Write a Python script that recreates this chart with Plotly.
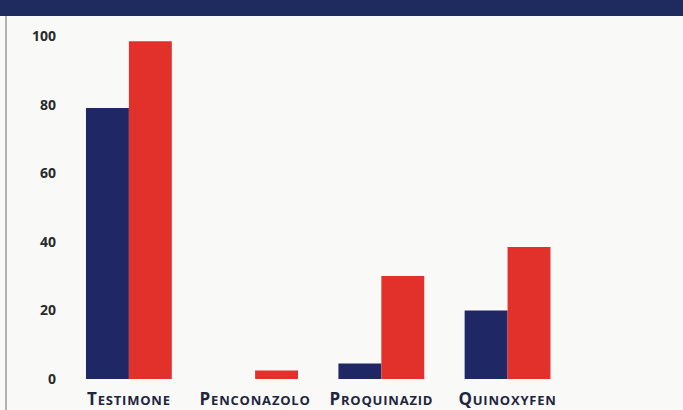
import plotly.graph_objects as go

# Categorie (tesi) e valori delle due serie
categorie = ["Testimone", "Penconazolo", "Proquinazid", "Quinoxyfen"]
serie_blu = [79, 0, 4.5, 20]
serie_rossa = [98.5, 2.5, 30, 38.5]
tick_y = [0, 20, 40, 60, 80, 100]

BLU = "#1f2865"
ROSSO = "#e2312b"
TESTO = "#1e2540"
SFONDO = "#f9f9f8"


def maiuscoletto(parola):
    # prima lettera grande, resto in maiuscoletto spaziato
    return (f"<span style='font-size:17px;letter-spacing:0.8px'>{parola[0].upper()}</span>"
            f"<span style='font-size:13px;letter-spacing:0.8px'>{parola[1:].upper()}</span>")


fig = go.Figure()
fig.add_trace(go.Bar(x=categorie, y=serie_blu, name="Serie 1",
                     marker=dict(color=BLU, line=dict(width=0))))
fig.add_trace(go.Bar(x=categorie, y=serie_rossa, name="Serie 2",
                     marker=dict(color=ROSSO, line=dict(width=0))))

fig.update_layout(
    width=683, height=410,
    barmode="group", bargap=0.32, bargroupgap=0,
    showlegend=False,
    paper_bgcolor=SFONDO, plot_bgcolor=SFONDO,
    margin=dict(l=62, r=0, t=36, b=31),
    font=dict(family="Open Sans", color=TESTO),
    xaxis=dict(
        type="category",
        range=[-0.53, 4.39],
        tickvals=categorie,
        ticktext=[maiuscoletto(c) for c in categorie],
        tickfont=dict(family="Open Sans", size=13, color=TESTO, weight="bold"),
        ticks="", showgrid=False, zeroline=False, showline=False,
        ticklabelstandoff=12, automargin=False,
    ),
    yaxis=dict(
        range=[0, 100],
        tickvals=tick_y,
        ticktext=[str(v) for v in tick_y],
        tickfont=dict(family="Open Sans", size=14, color="#2a2a2a", weight="bold"),
        ticks="", showgrid=False, zeroline=False, showline=False,
        ticklabelstandoff=5, automargin=False,
    ),
    shapes=[
        # fascia del titolo
        dict(type="rect", xref="paper", yref="paper", x0=-0.2, x1=1.0,
             y0=1.0 + 20 / 343, y1=1.0 + 40 / 343,
             fillcolor="#1f2a5e", line=dict(width=0), layer="above"),
        # filetto verticale sinistro
        dict(type="line", xref="paper", yref="paper",
             x0=-56 / 621, x1=-56 / 621, y0=-31 / 343, y1=1.0 + 20 / 343,
             line=dict(color="#9a9a9a", width=1.5)),
    ],
)

fig.write_html("out.html")
